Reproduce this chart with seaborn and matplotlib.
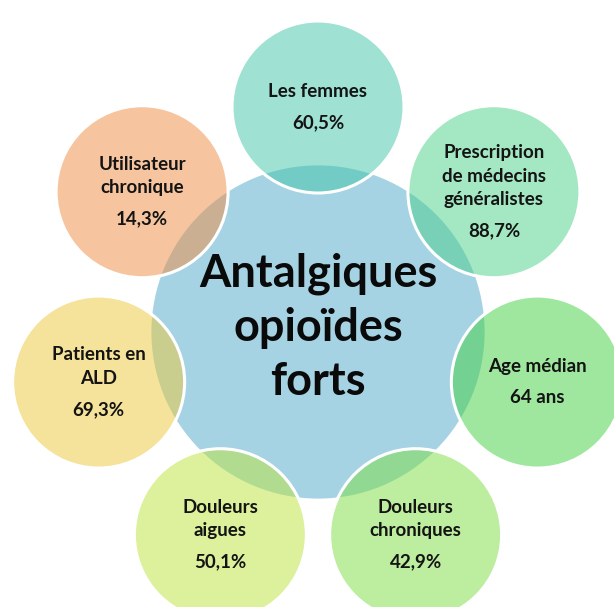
import numpy as np
import seaborn as sns
import matplotlib.pyplot as plt
from matplotlib.patches import Circle

# données du schéma
titre = "Antalgiques\nopioïdes\nforts"
libelles = [
    "Les femmes",
    "Prescription\nde médecins\ngénéralistes",
    "Age médian",
    "Douleurs\nchroniques",
    "Douleurs\naigues",
    "Patients en\nALD",
    "Utilisateur\nchronique",
]
valeurs = ["60,5%", "88,7%", "64 ans", "42,9%", "50,1%", "69,3%", "14,3%"]
couleurs = ["#41c5a9", "#4bd189", "#41d141", "#7ddd41", "#bde53d", "#edc939", "#ef8d41"]
couleur_centre = "#a6d3e4"

sns.set_theme(style="white")
plt.rcParams['font.family'] = ['Lato', 'DejaVu Sans']

fig = plt.figure(figsize=(6.14, 6.07), dpi=100)
ax = fig.add_axes([0, 0, 1, 1])
ax.set_xlim(0, 614)
ax.set_ylim(607, 0)
ax.set_aspect('equal')
ax.axis('off')

cx, cy = 318, 332
r_centre = 168
r_bulle = 86
dist = 225

ax.add_patch(Circle((cx, cy), r_centre, facecolor=couleur_centre, edgecolor='white', lw=2, zorder=1))

palette = sns.color_palette(couleurs)
n = len(libelles)
for i, (lib, val, col) in enumerate(zip(libelles, valeurs, palette)):
    ang = np.deg2rad(90 - i * 360 / n)
    x = cx + dist * np.cos(ang)
    y = cy - dist * np.sin(ang)
    ax.add_patch(Circle((x, y), r_bulle, facecolor=col, alpha=0.5, edgecolor='none', zorder=2))
    ax.add_patch(Circle((x, y), r_bulle, facecolor='none', edgecolor='white', lw=2.2, zorder=3))

    nb = lib.count("\n") + 1
    pas = 23.5
    ecart = 31
    haut = (nb - 1) * pas + ecart
    y0 = y - haut / 2
    for k, ligne in enumerate(lib.split("\n")):
        ax.text(x, y0 + k * pas, ligne, ha='center', va='center', fontsize=13.5,
                fontweight='bold', color='#141414', zorder=4)
    ax.text(x, y0 + (nb - 1) * pas + ecart, val, ha='center', va='center', fontsize=13.5,
            fontweight='bold', color='#141414', zorder=4)

for k, ligne in enumerate(titre.split("\n")):
    ax.text(cx, 274 + k * 54, ligne, ha='center', va='center', fontsize=32.5,
            fontweight='bold', color='#0a0a0a', zorder=5)

fig.savefig("out.png", dpi=100, facecolor='white')
